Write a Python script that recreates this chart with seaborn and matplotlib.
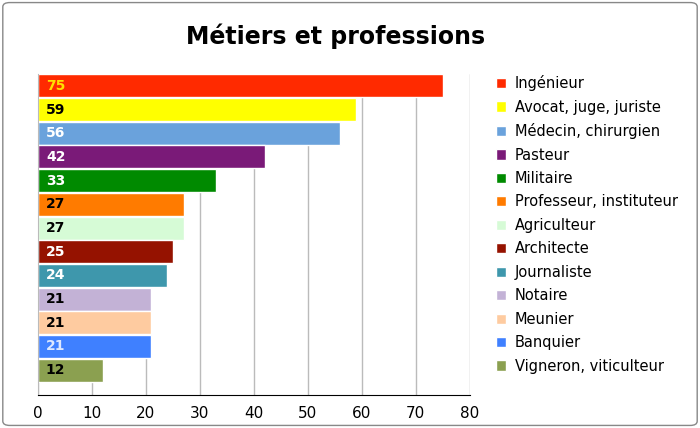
import matplotlib
matplotlib.use("Agg")
import matplotlib.pyplot as plt
import seaborn as sns
import pandas as pd
from matplotlib.patches import FancyBboxPatch, Patch

categories = ["Ingénieur", "Avocat, juge, juriste", "Médecin, chirurgien", "Pasteur", "Militaire",
              "Professeur, instituteur", "Agriculteur", "Architecte", "Journaliste", "Notaire",
              "Meunier", "Banquier", "Vigneron, viticulteur"]
values = [75, 59, 56, 42, 33, 27, 27, 25, 24, 21, 21, 21, 12]
colors = ["#ff2a00", "#ffff00", "#6aa2dc", "#7a1a78", "#008a00", "#ff7b00", "#d6fbd6",
          "#951200", "#3e97ac", "#c3b2d6", "#fecba0", "#3f80ff", "#8ba050"]
label_colors = ["#ffe000", "black", "white", "white", "white", "black", "black",
                "white", "white", "black", "black", "#dde8ff", "black"]

sns.set_style("white")
plt.rcParams['font.family'] = ['DejaVu Sans']
plt.rcParams['text.color'] = 'black'
plt.rcParams['xtick.color'] = 'black'
fig = plt.figure(figsize=(7, 4.28), dpi=100)
fig.patches.append(FancyBboxPatch((0.004, 0.006), 0.992, 0.988, boxstyle="round,pad=0,rounding_size=0.01",
                                  transform=fig.transFigure, fill=False, edgecolor="#888888", lw=1))
ax = fig.add_axes([0.054, 0.077, 0.617, 0.750])
df = pd.DataFrame({"cat": categories, "val": values})
sns.barplot(data=df, x="val", y="cat", hue="cat", palette=colors, legend=False, ax=ax,
            width=0.97, saturation=1, orient="h")
ax.set_xlim(0, 80)
ax.set_ylim(13.05, -0.5)
ax.set_xticks(range(0, 81, 10))
ax.set_yticks([])
ax.set_xlabel(""); ax.set_ylabel("")
ax.grid(axis="x", color="#bbbbbb", lw=1)
ax.set_axisbelow(True)
for s in ["top", "right"]:
    ax.spines[s].set_visible(False)
ax.spines["left"].set_color("#bbbbbb")
ax.spines["bottom"].set_color("black")
ax.tick_params(axis="x", labelsize=11, length=0, pad=8, colors="black")
for i, (v, c) in enumerate(zip(values, label_colors)):
    ax.text(1.5, i, str(v), va="center", ha="left", color=c, fontsize=10, fontweight="bold")
fig.text(0.48, 0.915, "Métiers et professions", ha="center", va="center", fontsize=17,
         fontweight="bold", color="black")
handles = [Patch(facecolor=c, label=l) for c, l in zip(colors, categories)]
leg = fig.legend(handles=handles, loc="upper left", bbox_to_anchor=(0.69, 0.855), frameon=False,
                 fontsize=10.5, handlelength=0.7, handleheight=0.7, handletextpad=0.6, labelspacing=0.58)
for t in leg.get_texts():
    t.set_color("black")
fig.savefig("out.png", dpi=100)
